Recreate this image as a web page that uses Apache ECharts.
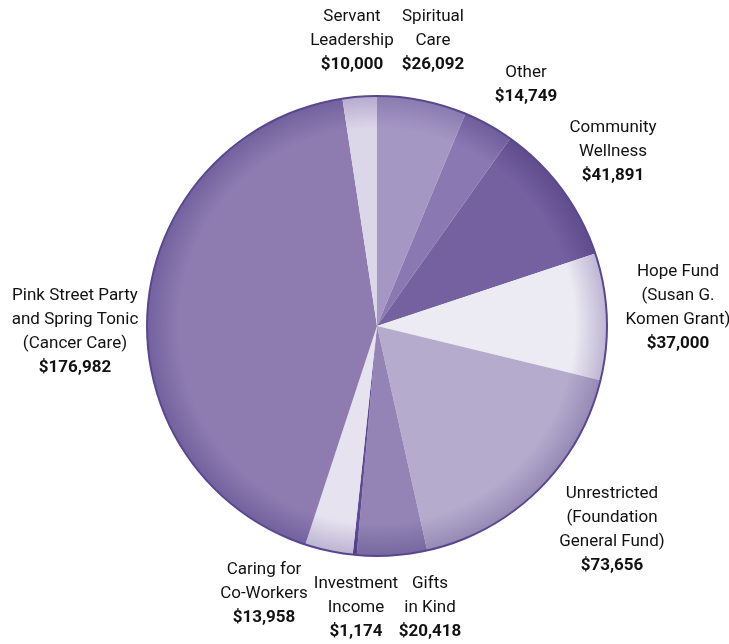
<!DOCTYPE html>
<html>
<head>
<meta charset="utf-8">
<script src="https://cdn.jsdelivr.net/npm/echarts@6/dist/echarts.min.js"></script>
<style>
	html, body { margin: 0; padding: 0; background: #fff; }
	#chart { width: 729px; height: 644px; }
</style>
</head>
<body>
<div id="chart"></div>
<script>
/*---------- data (clockwise from top) ----------*/
var names = [
	'Spiritual\nCare',
	'Other',
	'Community\nWellness',
	'Hope Fund\n(Susan G.\nKomen Grant)',
	'Unrestricted\n(Foundation\nGeneral Fund)',
	'Gifts\nin Kind',
	'Investment\nIncome',
	'Caring for\nCo-Workers',
	'Pink Street Party\nand Spring Tonic\n(Cancer Care)',
	'Servant\nLeadership'
];
var values = [26092, 14749, 41891, 37000, 73656, 20418, 1174, 13958, 176982, 10000];
var colors = ['#a597c4', '#8a78b3', '#7561a0', '#ecebf3', '#b5abcc', '#9384b5', '#5e4c93', '#e6e2ef', '#8e7cb1', '#dcd6e9'];
var rimColors = ['#8a7bb0', '#6f5d9c', '#5f4c8c', '#bdb5d3', '#968ab5', '#76679f', '#4f3f85', '#bcb4d2', '#72619e', '#b5abcd'];
// label centre offsets from pie centre
var labelOffsets = [[56, -285], [149, -241], [236, -174], [301, -18], [235, 204], [53, 282], [-21, 282], [-113, 268], [-302, 6], [-25, -285]];

var cx = 377, cy = 326, R = 230;
var font = 'Roboto, "Liberation Sans", sans-serif';

var chart = echarts.init(document.getElementById('chart'));

var pieData = [];
for (var i = 0; i < values.length; i++) {
	pieData.push({
		name: names[i],
		value: values[i],
		itemStyle: {
			color: {
				type: 'radial', x: cx, y: cy, r: R, global: true,
				colorStops: [
					{ offset: 0, color: colors[i] },
					{ offset: 0.86, color: colors[i] },
					{ offset: 1, color: rimColors[i] }
				]
			}
		}
	});
}

chart.setOption({
	animation: false,
	series: [
		{
			type: 'pie',
			center: [cx, cy],
			radius: [0, R],
			startAngle: 90,
			clockwise: true,
			silent: true,
			data: pieData,
			label: {
				show: true,
				position: 'inside',
				overflow: 'none',
				formatter: function(p) {
					var lines = p.name.split('\n');
					var s = '';
					for (var j = 0; j < lines.length; j++) {
						s += '{n|' + lines[j] + '}\n';
					}
					return s + '{v|$' + p.value.toLocaleString('en-US') + '}';
				},
				rich: {
					n: { fontFamily: font, fontSize: 17, color: '#111', lineHeight: 24, align: 'center' },
					v: { fontFamily: font, fontSize: 17, fontWeight: 'bold', color: '#111', lineHeight: 25, align: 'center' }
				}
			},
			labelLine: { show: false },
			labelLayout: function(params) {
				var o = labelOffsets[params.dataIndex];
				return { x: cx + o[0], y: cy + o[1], align: 'center', verticalAlign: 'middle' };
			}
		},
		{
			// dark rim outline
			type: 'pie',
			center: [cx, cy],
			radius: [R - 1, R + 1],
			silent: true,
			label: { show: false },
			labelLine: { show: false },
			itemStyle: { color: '#5a4790' },
			data: [{ value: 1 }]
		}
	]
});
</script>
</body>
</html>
